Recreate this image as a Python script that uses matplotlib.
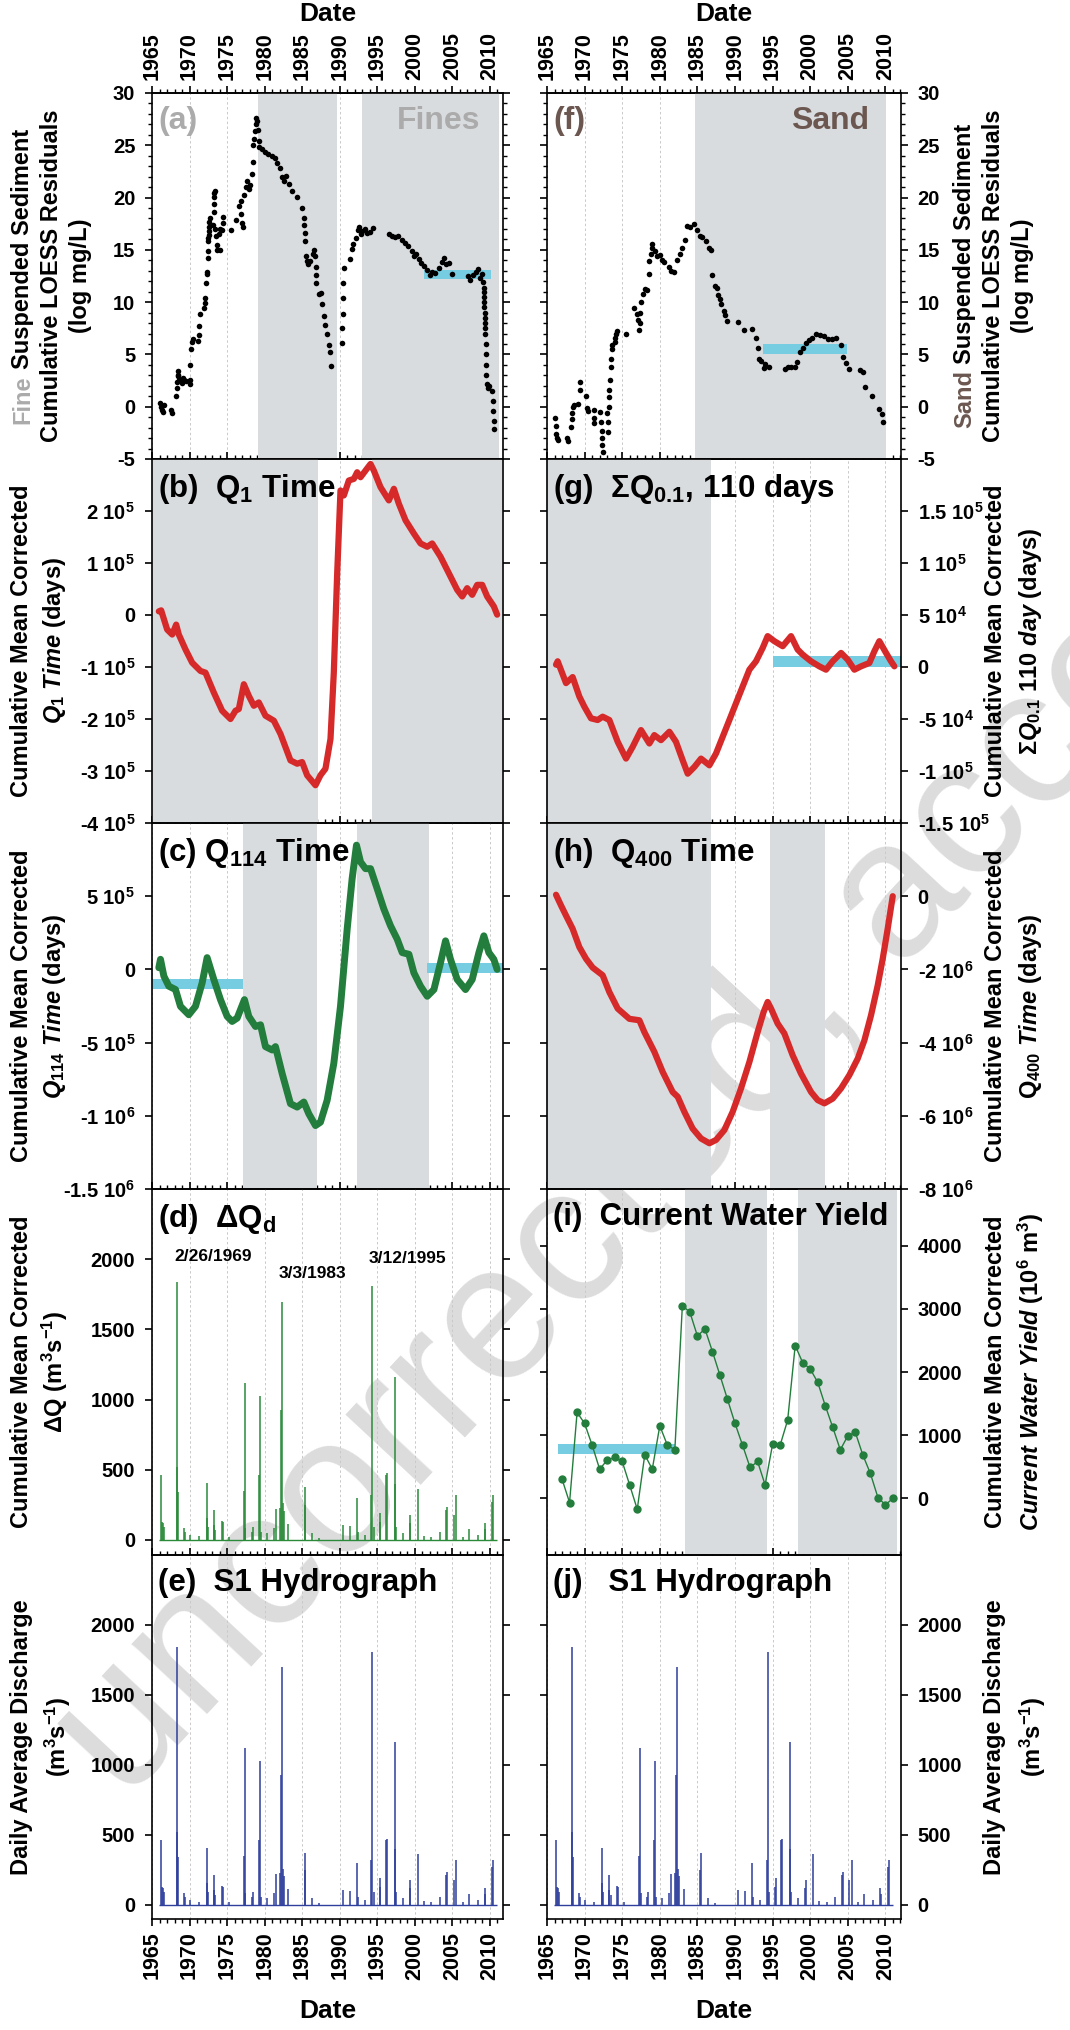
import numpy as np
import matplotlib
matplotlib.use('Agg')
import matplotlib.pyplot as plt
from matplotlib.ticker import MultipleLocator, FixedLocator, FixedFormatter

plt.rcParams['font.family'] = ['Liberation Sans', 'DejaVu Sans']
plt.rcParams['font.weight'] = 'bold'
plt.rcParams['axes.labelweight'] = 'bold'
plt.rcParams['mathtext.fontset'] = 'custom'
plt.rcParams['mathtext.rm'] = 'Liberation Sans:bold'
plt.rcParams['mathtext.bf'] = 'Liberation Sans:bold'
plt.rcParams['mathtext.it'] = 'Liberation Sans:italic:bold'
plt.rcParams['mathtext.default'] = 'rm'
plt.rcParams['axes.unicode_minus'] = False

# ---------------- data ----------------
# (a) fine sediment cumulative LOESS residuals
fine_year = [1966.1, 1966.2, 1966.3, 1966.5, 1966.6, 1967.5, 1967.6, 1968.2, 1968.3, 1968.35,
             1968.4, 1968.45, 1968.5, 1968.6, 1969.0, 1969.1, 1969.3, 1969.5, 1970.0, 1970.05,
             1970.1, 1970.15, 1970.3, 1970.5, 1971.1, 1971.2, 1971.3, 1971.35, 1971.9, 1972.0,
             1972.1, 1972.15, 1972.3, 1972.35, 1972.4, 1972.45, 1972.5, 1972.52, 1972.55, 1972.58,
             1972.6, 1972.65, 1972.7, 1973.1, 1973.2, 1973.25, 1973.3, 1973.32, 1973.35, 1973.4,
             1973.5, 1973.6, 1973.7, 1973.9, 1974.0, 1974.1, 1974.3, 1974.4, 1974.5, 1975.5,
             1976.2, 1976.6, 1976.8, 1976.9, 1977.0, 1977.1, 1977.3, 1977.5, 1977.7, 1977.9,
             1978.1, 1978.3, 1978.4, 1978.5, 1978.6, 1978.7, 1978.8, 1978.9, 1979.0, 1979.1,
             1979.2, 1979.3, 1979.6, 1980.0, 1980.5, 1981.0, 1981.4, 1981.7, 1982.0, 1982.3,
             1982.6, 1982.9, 1983.3, 1983.7, 1984.3, 1985.0, 1985.2, 1985.3, 1985.35, 1985.4,
             1985.5, 1985.6, 1985.8, 1986.1, 1986.4, 1986.6, 1986.7, 1986.8, 1986.85, 1986.9,
             1987.2, 1987.5, 1987.7, 1987.9, 1988.1, 1988.3, 1988.6, 1988.65, 1988.9, 1990.3,
             1990.35, 1990.4, 1990.45, 1990.5, 1990.55, 1991.3, 1991.6, 1991.8, 1992.2, 1992.4,
             1992.6, 1992.8, 1993.0, 1993.3, 1993.6, 1994.0, 1994.4, 1996.6, 1997.0, 1997.4,
             1997.8, 1998.3, 1998.7, 1999.1, 1999.6, 1999.9, 2000.2, 2000.5, 2000.8, 2001.2,
             2001.6, 2002.0, 2002.3, 2002.7, 2003.2, 2003.6, 2003.9, 2004.2, 2004.5, 2005.0,
             2007.1, 2007.4, 2007.7, 2008.1, 2008.4, 2008.7, 2008.9, 2009.1, 2009.15, 2009.2,
             2009.22, 2009.25, 2009.27, 2009.3, 2009.32, 2009.35, 2009.37, 2009.4, 2009.42, 2009.45,
             2009.47, 2009.5, 2009.55, 2009.7, 2009.9, 2010.3, 2010.4, 2010.45, 2010.5, 2010.55]
fine_res = [0.4, 0.0, -0.3, -0.5, 0.2, -0.3, -0.6, 1.0, 1.8, 2.4,
            2.9, 3.4, 3.0, 2.6, 2.3, 2.7, 2.6, 2.5, 2.2, 2.6,
            4.0, 5.5, 6.2, 6.5, 6.3, 6.9, 7.7, 8.9, 9.4, 9.9,
            10.4, 11.8, 12.7, 12.9, 14.2, 14.9, 15.8, 16.1, 16.4, 16.8,
            17.2, 17.7, 18.0, 17.4, 18.6, 19.4, 20.1, 20.4, 20.6, 17.0,
            16.3, 15.5, 15.0, 16.5, 17.0, 15.0, 16.9, 17.6, 18.1, 16.9,
            17.9, 19.2, 19.7, 18.4, 17.6, 17.2, 20.2, 21.0, 21.6, 20.8,
            21.2, 22.3, 23.4, 25.0, 25.6, 26.4, 27.0, 27.6, 27.3, 26.5,
            25.4, 24.8, 24.6, 24.4, 24.2, 24.0, 23.8, 23.3, 22.8, 22.0,
            21.6, 22.1, 21.3, 20.6, 20.1, 19.0, 18.0, 17.4, 16.6, 15.8,
            14.4, 13.9, 13.6, 13.9, 14.6, 15.0, 14.4, 13.4, 12.6, 11.8,
            10.8, 10.9, 9.8, 8.7, 7.8, 7.0, 5.9, 5.2, 3.9, 6.1,
            7.5, 8.9, 10.4, 11.8, 13.3, 14.1, 15.1, 15.6, 16.1, 16.9,
            17.2, 16.5, 16.8, 17.0, 16.6, 16.7, 17.1, 16.5, 16.3, 16.2,
            16.3, 15.9, 15.7, 15.4, 14.9, 14.4, 14.6, 14.1, 13.7, 13.5,
            13.1, 12.6, 12.9, 12.8, 13.3, 13.8, 14.2, 13.6, 13.7, 12.7,
            12.5, 12.1, 12.6, 12.9, 13.2, 12.3, 12.7, 11.9, 11.4, 11.0,
            10.5, 10.0, 9.5, 9.0, 8.5, 8.0, 7.5, 7.0, 6.0, 5.0,
            4.0, 3.0, 2.2, 1.8, 2.0, 1.5, 0.5, -0.4, -1.4, -2.1]

# (f) sand sediment cumulative LOESS residuals
sand_year = [1966.1, 1966.15, 1966.2, 1966.3, 1966.4, 1967.7, 1967.75, 1968.2, 1968.3, 1968.35,
             1968.4, 1968.6, 1969.1, 1969.4, 1969.45, 1970.2, 1970.35, 1970.5, 1971.2, 1971.25,
             1971.3, 1972.1, 1972.2, 1972.25, 1972.3, 1972.35, 1972.45, 1973.0, 1973.05, 1973.1,
             1973.2, 1973.25, 1973.3, 1973.35, 1973.5, 1973.55, 1973.6, 1973.7, 1974.0, 1974.1,
             1974.2, 1974.3, 1975.5, 1976.6, 1977.0, 1977.1, 1977.2, 1977.3, 1977.4, 1977.5,
             1977.8, 1978.0, 1978.3, 1978.5, 1978.6, 1978.8, 1978.9, 1979.0, 1979.3, 1979.6,
             1980.0, 1980.3, 1980.6, 1981.2, 1981.5, 1981.9, 1982.3, 1982.7, 1983.0, 1983.4,
             1983.6, 1984.0, 1984.5, 1985.0, 1985.3, 1985.6, 1986.1, 1986.6, 1986.8, 1987.0,
             1987.3, 1987.6, 1987.8, 1988.0, 1988.2, 1988.5, 1988.7, 1989.0, 1990.4, 1991.2,
             1992.3, 1992.8, 1993.0, 1993.2, 1993.5, 1993.8, 1994.0, 1994.5, 1996.6, 1997.0,
             1997.5, 1998.0, 1998.3, 1998.6, 1999.0, 1999.4, 1999.8, 2000.3, 2000.8, 2001.3,
             2001.8, 2002.4, 2002.9, 2003.4, 2004.1, 2004.4, 2004.7, 2005.2, 2006.6, 2007.0,
             2007.3, 2008.2, 2009.2, 2009.5, 2009.7]
sand_res = [-1.1, -1.8, -2.6, -3.0, -3.2, -3.0, -3.3, -1.9, -1.2, -0.6,
            0.0, 0.2, 0.3, 1.6, 2.4, 1.0, -0.1, -0.4, -0.3, -1.1,
            -1.6, -0.5, -1.5, -2.3, -3.0, -3.7, -4.3, -0.6, -1.5, -2.4,
            0.0, 0.9, 1.6, 2.6, 3.8, 4.6, 5.5, 5.9, 6.2, 6.6,
            7.0, 7.2, 7.0, 9.4, 8.9, 8.3, 7.3, 8.0, 9.0, 10.0,
            10.8, 11.3, 11.2, 12.7, 13.9, 14.6, 15.2, 15.6, 14.9, 14.4,
            14.5, 14.0, 13.8, 13.4, 13.0, 12.9, 14.0, 14.6, 15.2, 15.9,
            17.3, 17.2, 17.5, 16.9, 16.3, 16.2, 15.8, 15.2, 15.0, 12.6,
            11.5, 11.4, 10.7, 10.3, 9.8, 9.2, 8.8, 8.2, 8.1, 7.3,
            7.4, 6.6, 5.6, 4.6, 4.4, 3.7, 4.1, 3.8, 3.6, 3.8,
            3.8, 3.8, 4.3, 5.2, 5.6, 6.1, 6.4, 6.6, 7.0, 6.9,
            6.8, 6.5, 6.5, 6.6, 5.9, 4.8, 4.2, 3.6, 3.5, 3.3,
            1.9, 1.0, -0.2, -0.7, -1.5]

# (b) Q1 time, cumulative mean corrected (days)
q1_year = [1965.91, 1966.22, 1967.02, 1967.69, 1968.22, 1968.57, 1969.46, 1970.35, 1971.46, 1972.12,
           1973.23, 1974.34, 1975.45, 1976.12, 1976.56, 1977.23, 1977.89, 1978.56, 1979.22, 1980.11,
           1981.22, 1982.11, 1983.44, 1984.33, 1984.99, 1985.66, 1986.77, 1987.43, 1988.10, 1988.77,
           1989.21, 1989.66, 1990.10, 1990.55, 1991.21, 1991.88, 1992.32, 1992.77, 1993.43, 1994.10,
           1994.54, 1995.43, 1996.54, 1997.21, 1997.87, 1998.76, 1999.87, 2000.76, 2001.65, 2002.31,
           2003.42, 2004.53, 2005.64, 2006.31, 2006.97, 2007.64, 2008.30, 2008.97, 2009.63, 2010.52,
           2010.96]
q1_cum = [7006, 8917, -28025, -37580, -18471, -37580, -66242, -91720, -107643, -110828,
          -149045, -184076, -200000, -184076, -180892, -133121, -155414, -174522, -168153, -193631,
          -203185, -228662, -279618, -285987, -282803, -308280, -327389, -308280, -295541, -238217,
          -110828, 80255, 239490, 229936, 258599, 261783, 274522, 264968, 277707, 290446,
          277707, 245860, 220382, 242675, 214013, 182166, 156688, 137580, 131210, 137580,
          112102, 80255, 48408, 35669, 51592, 38854, 57962, 57962, 35669, 16561,
          637]

# (g) sum Q0.1, 110 days
sq_year = [1966.20, 1966.42, 1967.53, 1968.41, 1969.30, 1969.96, 1970.85, 1971.74, 1972.40, 1973.29,
           1974.40, 1975.51, 1976.39, 1977.50, 1978.61, 1979.27, 1980.16, 1981.27, 1982.15, 1983.04,
           1983.71, 1984.59, 1985.48, 1986.59, 1987.47, 1988.36, 1989.25, 1990.13, 1991.02, 1991.91,
           1992.79, 1993.68, 1994.34, 1995.23, 1996.34, 1997.45, 1998.33, 1999.00, 2000.11, 2001.21,
           2002.10, 2002.99, 2004.10, 2004.98, 2005.87, 2006.76, 2007.86, 2008.53, 2009.19, 2010.08,
           2010.74, 2011.19]
sq_cum = [2258, 5484, -15484, -9677, -28387, -38065, -49355, -50968, -47742, -50968,
          -71935, -88065, -76774, -60645, -73548, -65484, -70323, -62258, -71935, -89677,
          -102581, -96129, -88065, -94516, -83226, -67097, -50968, -34839, -18710, -2581,
          5484, 18387, 29677, 24839, 20000, 29677, 16774, 11935, 5484, 645,
          -2581, 5484, 13548, 7097, -2581, 645, 3871, 15161, 24839, 13548,
          5484, 645]

# (c) Q114 time
q114_year = [1965.91, 1966.13, 1966.58, 1967.24, 1968.13, 1968.79, 1969.90, 1970.79, 1971.68, 1972.34,
             1973.23, 1974.12, 1975.01, 1975.67, 1976.34, 1977.31, 1977.89, 1978.78, 1979.45, 1980.11,
             1981.00, 1981.44, 1982.33, 1983.44, 1984.33, 1985.22, 1985.88, 1986.77, 1987.43, 1988.32,
             1989.21, 1990.10, 1990.99, 1991.65, 1992.23, 1992.77, 1993.43, 1994.10, 1994.99, 1995.87,
             1996.76, 1997.65, 1998.32, 1999.21, 1999.87, 2000.76, 2001.65, 2002.54, 2003.42, 2004.09,
             2004.75, 2005.64, 2006.75, 2007.64, 2008.53, 2009.19, 2009.86, 2010.52, 2010.96]
q114_cum = [11468, 68807, -45872, -114679, -137615, -252294, -309633, -252294, -91743, 80275,
            -68807, -206422, -321101, -355505, -332569, -206422, -321101, -389908, -378440, -527523,
            -550459, -527523, -711009, -917431, -940367, -905963, -986239, -1066514, -1043578, -894495,
            -642202, -252294, 275229, 619266, 848624, 733945, 688073, 688073, 550459, 412844,
            298165, 206422, 114679, 103211, -22936, -114679, -183486, -137615, 45872, 194954,
            68807, -68807, -137615, -68807, 114679, 229358, 114679, 68807, 0]

# (h) Q400 time (10^6 days)
q400_year = [1966.20, 1966.86, 1967.53, 1968.41, 1969.30, 1970.19, 1971.07, 1972.40, 1973.29, 1974.40,
             1975.95, 1977.28, 1977.94, 1979.27, 1980.38, 1981.71, 1982.38, 1983.26, 1984.37, 1985.48,
             1986.59, 1987.47, 1988.58, 1989.69, 1990.80, 1991.91, 1993.01, 1993.81, 1994.34, 1994.79,
             1995.67, 1996.56, 1997.67, 1998.78, 2000.11, 2000.99, 2001.88, 2002.99, 2004.10, 2005.20,
             2006.31, 2007.20, 2008.09, 2008.97, 2009.64, 2010.30, 2010.97]
q400_cum = [0.04, -0.25, -0.53, -0.89, -1.39, -1.71, -1.95, -2.16, -2.62, -3.07,
            -3.35, -3.39, -3.71, -4.25, -4.80, -5.35, -5.48, -5.89, -6.35, -6.62,
            -6.75, -6.66, -6.39, -5.89, -5.25, -4.53, -3.71, -3.16, -2.89, -3.07,
            -3.48, -3.75, -4.35, -4.85, -5.35, -5.57, -5.66, -5.53, -5.25, -4.89,
            -4.44, -3.94, -3.25, -2.44, -1.71, -0.89, 0.0]

# (i) current water yield (10^6 m^3), annual
wy_year = list(range(1967, 2012))
wy_cum = [302, -69, 1360, 1185, 841, 460, 603, 646, 582, 206,
          -175, 688, 460, 1148, 841, 767, 3053, 2947, 2571, 2683,
          2323, 1947, 1566, 1185, 841, 487, 582, 212, 857, 841,
          1238, 2418, 2148, 2048, 1836, 1466, 1122, 767, 989, 1042,
          683, 392, 11, -106, 0]

# S1 hydrograph peaks (m^3/s), shared by (d), (e), (j)
hyd_year = [1966.18, 1966.30, 1966.45, 1966.60, 1968.30, 1968.36, 1968.45, 1969.20, 1969.35, 1970.10,
            1971.20, 1972.30, 1972.36, 1972.50, 1973.20, 1973.28, 1973.45, 1974.35, 1974.50, 1975.30,
            1977.28, 1977.36, 1977.45, 1978.30, 1978.40, 1979.28, 1979.36, 1979.50, 1980.35, 1981.20,
            1981.47, 1982.08, 1982.20, 1982.30, 1982.40, 1982.55, 1983.15, 1985.35, 1985.44, 1986.35,
            1987.30, 1990.40, 1991.30, 1992.30, 1992.40, 1993.30, 1994.22, 1994.36, 1994.55, 1995.30,
            1995.40, 1996.18, 1996.30, 1997.30, 1997.36, 1997.50, 1998.40, 1999.30, 1999.40, 2000.40,
            2001.20, 2002.20, 2003.30, 2004.20, 2004.30, 2005.20, 2005.50, 2006.40, 2007.20, 2008.40,
            2009.30, 2009.40, 2010.30, 2010.45]
hyd_peak = [463, 130, 120, 95, 520, 1840, 344, 88, 60, 36,
            25, 160, 409, 95, 110, 214, 71, 135, 130, 20,
            351, 1121, 85, 60, 95, 463, 1026, 55, 52, 83,
            223, 226, 926, 1698, 260, 209, 114, 249, 375, 48,
            15, 107, 100, 302, 60, 36, 321, 1810, 95, 130,
            195, 463, 475, 1164, 400, 95, 48, 120, 178, 363,
            28, 24, 55, 214, 237, 178, 321, 20, 76, 36,
            119, 80, 273, 321]
hyd_span = [1965.9, 2011.0]
flood_labels = ['2/26/1969', '3/3/1983', '3/12/1995']
flood_x = [1973.2, 1986.3, 1999.0]
flood_y = [2020, 1900, 2005]

# shaded periods and cyan reference bands (x0, x1, y0, y1)
shade = {
    'a': [(1979.1, 1989.6), (1992.9, 2011.2)],
    'b': [(1965.0, 1987.1), (1994.3, 2011.6)],
    'c': [(1977.1, 1987.0), (1992.3, 2001.9)],
    'f': [(1984.7, 2010.1)],
    'g': [(1965.0, 1986.8)],
    'h': [(1965.0, 1986.8), (1994.6, 2001.9)],
    'i': [(1983.3, 1994.3), (1998.4, 2011.5)],
}
bands = {
    'a': [(2001.2, 2010.1, 12.2, 13.1)],
    'c': [(1965.0, 1977.1, -1.33e5, -0.64e5), (2001.6, 2011.8, -0.28e5, 0.46e5)],
    'f': [(1993.7, 2004.9, 5.0, 6.0)],
    'g': [(1995.0, 2012.1, 0.0, 1.1e4)],
    'i': [(1966.5, 1982.0, 693, 862)],
}

year_ticks = [1965, 1970, 1975, 1980, 1985, 1990, 1995, 2000, 2005, 2010]
year_labels = [str(y) for y in year_ticks]
sed_ticks = [-5, 0, 5, 10, 15, 20, 25, 30]
b_ticks = [-4e5, -3e5, -2e5, -1e5, 0, 1e5, 2e5]
b_labels = ['-4 10$^5$', '-3 10$^5$', '-2 10$^5$', '-1 10$^5$', '0', '1 10$^5$', '2 10$^5$']
c_ticks = [-1.5e6, -1e6, -5e5, 0, 5e5]
c_labels = ['-1.5 10$^6$', '-1 10$^6$', '-5 10$^5$', '0', '5 10$^5$']
g_ticks = [-1.5e5, -1e5, -5e4, 0, 5e4, 1e5, 1.5e5]
g_labels = ['-1.5 10$^5$', '-1 10$^5$', '-5 10$^4$', '0', '5 10$^4$', '1 10$^5$', '1.5 10$^5$']
h_ticks = [-8, -6, -4, -2, 0]
h_labels = ['-8 10$^6$', '-6 10$^6$', '-4 10$^6$', '-2 10$^6$', '0']
q_ticks = [0, 500, 1000, 1500, 2000]
wy_ticks = [0, 1000, 2000, 3000, 4000]

# ---------------- styling ----------------
SHADE = '#d9dcdf'
CYAN = '#76cde2'
RED = '#d62a2a'
GREEN = '#237d3c'
BLUE = '#2e3f9c'
GREY = '#ababab'
BROWN = '#6b5750'
W, H, DPI = 1070, 2030, 100
YEAR_FS = 15.5

fig = plt.figure(figsize=(W / DPI, H / DPI), dpi=DPI)

rows = [(93, 459), (459, 823), (823, 1189), (1189, 1555), (1555, 1919)]
cols = [(152, 503, 2011.74), (547, 901, 2012.07)]
axes = {}
names = [['a', 'b', 'c', 'd', 'e'], ['f', 'g', 'h', 'i', 'j']]
for ci, (x0, x1, xmax) in enumerate(cols):
    for ri, (t, b) in enumerate(rows):
        ax = fig.add_axes([x0 / W, 1 - b / H, (x1 - x0) / W, (b - t) / H])
        ax.set_facecolor('none')
        ax.set_xlim(1965, xmax)
        ax.set_xticks(year_ticks)
        ax.xaxis.set_minor_locator(MultipleLocator(1))
        ax.set_axisbelow(True)
        ax.grid(axis='x', which='major', ls=(0, (2.5, 2.5)), color='#c9c9c9', lw=0.7)
        last = ri == 4
        ax.tick_params(axis='x', which='both', direction='out' if last else 'in',
                       bottom=True, top=False, labelbottom=last, pad=4)
        ax.tick_params(axis='x', which='major', length=5, width=1.2)
        ax.tick_params(axis='x', which='minor', length=3, width=1.0)
        ax.tick_params(axis='y', which='both', direction='out', left=True, right=True,
                       labelleft=(ci == 0), labelright=(ci == 1), labelsize=14.5, pad=7)
        ax.tick_params(axis='y', which='major', length=5, width=1.2)
        ax.tick_params(axis='y', which='minor', length=3, width=1.0)
        for s in ax.spines.values():
            s.set_linewidth(1.2)
        if last:
            ax.set_xticklabels(year_labels, rotation=90, fontsize=YEAR_FS, fontweight='bold')
            ax.set_xlabel('Date', fontsize=19, fontweight='bold', labelpad=14)
        if ri == 0:
            sec = ax.secondary_xaxis('top')
            sec.set_xticks(year_ticks)
            sec.set_xticklabels(year_labels, rotation=90, fontsize=YEAR_FS, fontweight='bold')
            sec.xaxis.set_minor_locator(MultipleLocator(1))
            sec.tick_params(axis='x', which='both', direction='out', pad=4)
            sec.tick_params(axis='x', which='major', length=5, width=1.2)
            sec.tick_params(axis='x', which='minor', length=3, width=1.0)
            sec.spines['top'].set_linewidth(1.2)
            sec.set_xlabel('Date', fontsize=19, fontweight='bold', labelpad=8)
        axes[names[ci][ri]] = ax

for k, spans in shade.items():
    for x0, x1 in spans:
        axes[k].axvspan(x0, x1, color=SHADE, lw=0, zorder=0.8)
for k, bl in bands.items():
    for x0, x1, y0, y1 in bl:
        axes[k].fill_between([x0, x1], [y0, y0], [y1, y1], color=CYAN, lw=0, zorder=1.5)

def set_y(ax, lo, hi, ticks, labels=None):
    ax.set_ylim(lo, hi)
    ax.yaxis.set_major_locator(FixedLocator(ticks))
    if labels is None:
        labels = [str(int(v)) for v in ticks]
    ax.yaxis.set_major_formatter(FixedFormatter(labels))

def title(ax, s, color='black', fs=22.5):
    ax.text(0.018, 0.965, s, transform=ax.transAxes, ha='left', va='top', fontsize=fs,
            color=color, zorder=5)

# (a) fines
ax = axes['a']
ax.scatter(fine_year, fine_res, s=16, color='black', lw=0, zorder=3)
set_y(ax, -5, 30, sed_ticks)
ax.yaxis.set_minor_locator(MultipleLocator(1))
title(ax, '(a)', GREY, 23)
ax.text(0.935, 0.965, 'Fines', transform=ax.transAxes, ha='right', va='top', fontsize=23, color=GREY)

# (f) sand
ax = axes['f']
ax.scatter(sand_year, sand_res, s=16, color='black', lw=0, zorder=3)
set_y(ax, -5, 30, sed_ticks)
ax.yaxis.set_minor_locator(MultipleLocator(1))
title(ax, '(f)', BROWN, 23)
ax.text(0.91, 0.965, 'Sand', transform=ax.transAxes, ha='right', va='top', fontsize=23, color=BROWN)

# (b)
ax = axes['b']
ax.plot(q1_year, q1_cum, color=RED, lw=4.5, solid_joinstyle='round', solid_capstyle='round', zorder=3)
set_y(ax, -4e5, 3e5, b_ticks, b_labels)
title(ax, '(b)  Q$_1$ Time')

# (g)
ax = axes['g']
ax.plot(sq_year, sq_cum, color=RED, lw=4.5, solid_joinstyle='round', solid_capstyle='round', zorder=3)
set_y(ax, -1.5e5, 2e5, g_ticks, g_labels)
title(ax, '(g)  ΣQ$_{0.1}$, 110 days')

# (c)
ax = axes['c']
ax.plot(q114_year, q114_cum, color=GREEN, lw=5, solid_joinstyle='round', solid_capstyle='round', zorder=3)
set_y(ax, -1.5e6, 1e6, c_ticks, c_labels)
title(ax, '(c) Q$_{114}$ Time')

# (h)
ax = axes['h']
ax.plot(q400_year, q400_cum, color=RED, lw=4.5, solid_joinstyle='round', solid_capstyle='round', zorder=3)
set_y(ax, -8, 2, h_ticks, h_labels)
title(ax, '(h)  Q$_{400}$ Time')

# (d) delta Q
ax = axes['d']
ax.hlines(0, hyd_span[0], hyd_span[1], color='#2a8a3a', lw=1.0, zorder=3)
ax.vlines(hyd_year, 0, hyd_peak, color='#2a8a3a', lw=1.1, zorder=3)
set_y(ax, -107, 2500, q_ticks)
title(ax, '(d)  ΔQ$_d$')
for s, x, y in zip(flood_labels, flood_x, flood_y):
    ax.text(x, y, s, ha='center', va='center', fontsize=12.5)

# (e), (j) hydrographs
for k, lab in (('e', '(e)  S1 Hydrograph'), ('j', '(j)   S1 Hydrograph')):
    ax = axes[k]
    ax.hlines(0, hyd_span[0], hyd_span[1], color=BLUE, lw=1.0, zorder=3)
    ax.vlines(hyd_year, 0, hyd_peak, color=BLUE, lw=1.1, zorder=3)
    set_y(ax, -100, 2500, q_ticks)
    title(ax, lab)

# (i) water yield
ax = axes['i']
ax.plot(wy_year, wy_cum, color=GREEN, lw=1.0, marker='o', ms=5, zorder=3)
set_y(ax, -900, 4900, wy_ticks)
title(ax, '(i)  Current Water Yield')

# ---------------- y labels ----------------
FS = 17
centers = [(t + b) / 2 for t, b in rows]

def vtext(x_px, y_px, s, color='black', fs=FS):
    return fig.text(x_px / W, 1 - y_px / H, s, rotation=90, ha='center', va='center',
                    fontsize=fs, color=color, fontweight='bold')

def stacked(x_px, y_px, pieces, fs=FS):
    texts = [vtext(0, 0, s, c, fs) for s, c in pieces]
    fig.canvas.draw()
    r = fig.canvas.get_renderer()
    hs = [t.get_window_extent(r).height for t in texts]
    gap = 0.278 * fs * DPI / 72
    total = sum(hs) + gap * (len(hs) - 1)
    y = (H - y_px) - total / 2
    for t, h in zip(texts, hs):
        t.set_position((x_px / W, (y + h / 2) / H))
        y += h + gap

stacked(23, centers[0], [('Fine', GREY), ('Suspended Sediment', 'black')])
vtext(52, centers[0], 'Cumulative LOESS Residuals')
vtext(81, centers[0], '(log mg/L)')
stacked(965, centers[0], [('Sand', BROWN), ('Suspended Sediment', 'black')])
vtext(994, centers[0], 'Cumulative LOESS Residuals')
vtext(1023, centers[0], '(log mg/L)')

left2 = [r'$\mathit{Q_1}$ $\mathit{Time}$ (days)', r'$\mathit{Q_{114}}$ $\mathit{Time}$ (days)',
         r'ΔQ (m$^3$s$^{-1}$)']
for ri, s in zip([1, 2, 3], left2):
    vtext(22, centers[ri], 'Cumulative Mean Corrected')
    vtext(55, centers[ri], s)
vtext(22, centers[4], 'Daily Average Discharge')
vtext(58, centers[4], '(m$^3$s$^{-1}$)')

right2 = [r'$\mathit{ΣQ_{0.1}\ 110\ day}$ (days)', r'Q$_{400}$ $\mathit{Time}$ (days)',
          r'$\mathit{Current\ Water\ Yield}$ (10$^6$ m$^3$)']
for ri, s in zip([1, 2, 3], right2):
    vtext(996, centers[ri], 'Cumulative Mean Corrected')
    vtext(1031, centers[ri], s)
vtext(994, centers[4], 'Daily Average Discharge')
vtext(1033, centers[4], '(m$^3$s$^{-1}$)')

# watermark
fig.text(0.117, 0.112, 'uncorrected, accepted', rotation=47, rotation_mode='anchor',
         ha='left', va='baseline', fontsize=140, fontweight='normal', color='#dcdcdc', zorder=-1)

fig.savefig('out.png', dpi=DPI)
